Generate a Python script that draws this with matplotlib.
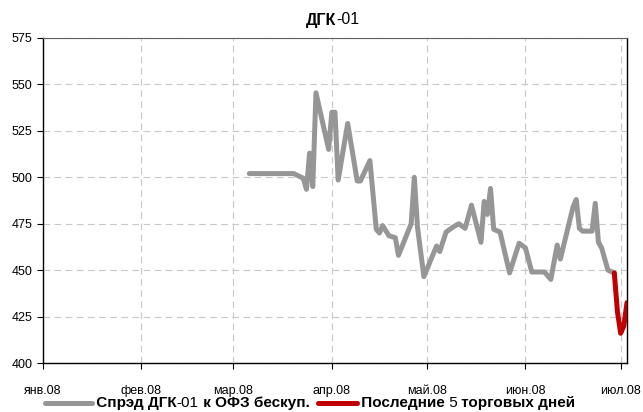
import matplotlib
matplotlib.use('Agg')
import matplotlib.pyplot as plt
import pandas as pd
from matplotlib.lines import Line2D
from matplotlib.offsetbox import HPacker, TextArea, DrawingArea, AnchoredOffsetbox

plt.rcParams['font.family'] = ['Liberation Sans Narrow', 'Liberation Sans', 'DejaVu Sans']

# Спрэд ДГК-01 к ОФЗ (б.п.)
spread_dates = ['2008-03-06', '2008-03-20', '2008-03-23', '2008-03-24', '2008-03-25',
                '2008-03-26', '2008-03-27', '2008-03-31', '2008-04-01', '2008-04-02',
                '2008-04-03', '2008-04-06', '2008-04-09', '2008-04-10', '2008-04-13',
                '2008-04-15', '2008-04-16', '2008-04-17', '2008-04-19', '2008-04-21',
                '2008-04-22', '2008-04-26', '2008-04-27', '2008-04-28', '2008-04-30',
                '2008-05-04', '2008-05-05', '2008-05-07', '2008-05-09', '2008-05-11',
                '2008-05-13', '2008-05-15', '2008-05-18', '2008-05-19', '2008-05-20',
                '2008-05-21', '2008-05-22', '2008-05-24', '2008-05-27', '2008-05-30',
                '2008-06-01', '2008-06-03', '2008-06-07', '2008-06-09', '2008-06-11',
                '2008-06-12', '2008-06-16', '2008-06-17', '2008-06-18', '2008-06-19',
                '2008-06-22', '2008-06-23', '2008-06-24', '2008-06-25', '2008-06-27',
                '2008-06-29']
spread_vals = [502, 502, 499.5, 493.5, 513,
               495, 545.5, 515, 535, 535,
               498.5, 529, 498, 498, 509,
               472, 470, 474, 468.5, 467.5,
               458, 475, 500, 473, 446.5,
               463, 460, 470.5, 473, 475,
               472.5, 485, 465, 487, 480,
               494, 472, 470.5, 448.5, 464.5,
               462, 449, 449, 445, 463.5,
               456, 484, 488, 472.5, 471,
               471, 486, 465, 462, 450,
               448.5]

# Последние 5 торговых дней
last_dates = ['2008-06-29', '2008-06-30', '2008-07-01', '2008-07-02', '2008-07-03']
last_vals = [448.5, 427.5, 416, 420, 432.5]

month_ticks = ['2008-01-01', '2008-02-01', '2008-03-01', '2008-04-01',
               '2008-05-01', '2008-06-01', '2008-07-01']
month_labels = ['янв.08', 'фев.08', 'мар.08', 'апр.08', 'май.08', 'июн.08', 'июл.08']

grey = '#969696'
red = '#c00000'

fig = plt.figure(figsize=(6.43, 4.12), dpi=100)
ax = fig.add_axes([43 / 643, 1 - 363 / 412, (627 - 43) / 643, (363 - 38) / 412])

ax.plot(pd.to_datetime(spread_dates), spread_vals, color=grey, lw=3.6,
        solid_joinstyle='round', solid_capstyle='round', zorder=3)
ax.plot(pd.to_datetime(last_dates), last_vals, color=red, lw=3.6,
        solid_joinstyle='round', solid_capstyle='round', zorder=4)

ax.set_ylim(400, 575)
ax.set_yticks([400, 425, 450, 475, 500, 525, 550, 575])
ax.set_xlim(pd.Timestamp('2008-01-01'), pd.Timestamp('2008-07-03'))
ax.set_xticks(pd.to_datetime(month_ticks))
ax.set_xticklabels(month_labels)

ax.grid(True, color='#c8c8c8', linestyle=(0, (6, 4)), linewidth=0.8)
ax.tick_params(axis='both', labelsize=9, direction='out', length=4, width=0.8)
ax.tick_params(axis='x', pad=12)
for s in ['left', 'bottom', 'right']:
    ax.spines[s].set_color('black')
    ax.spines[s].set_linewidth(1.0)
ax.spines['top'].set_color('#606060')

# заголовок: буквы жирные, цифры обычные
fig.text(336 / 643, 1 - 20 / 412, 'ДГК', ha='right', va='center', fontsize=11.5, fontweight='bold')
fig.text(336 / 643, 1 - 20 / 412, '-01', ha='left', va='center', fontsize=11.5)


def sample(color, w):
    da = DrawingArea(w, 10, 0, 0)
    da.add_artist(Line2D([0, w], [5, 5], color=color, lw=3.6, solid_capstyle='round'))
    return da


def txt(s, bold=True):
    return TextArea(s, textprops=dict(fontsize=11, fontweight='bold' if bold else 'normal'))


items = [sample(grey, 34), txt(' Спрэд ДГК'), txt('-01', False), txt(' к ОФЗ бескуп.'),
         txt('  '), sample(red, 28), txt(' Последние', True), txt(' 5', False),
         txt(' торговых дней')]
box = HPacker(children=items, align='center', pad=0, sep=0)
anchored = AnchoredOffsetbox(loc='center', child=box, frameon=False,
                             bbox_to_anchor=(310 / 643, 9 / 412),
                             bbox_transform=fig.transFigure, pad=0, borderpad=0)
fig.add_artist(anchored)

fig.savefig('out.png', dpi=100)
